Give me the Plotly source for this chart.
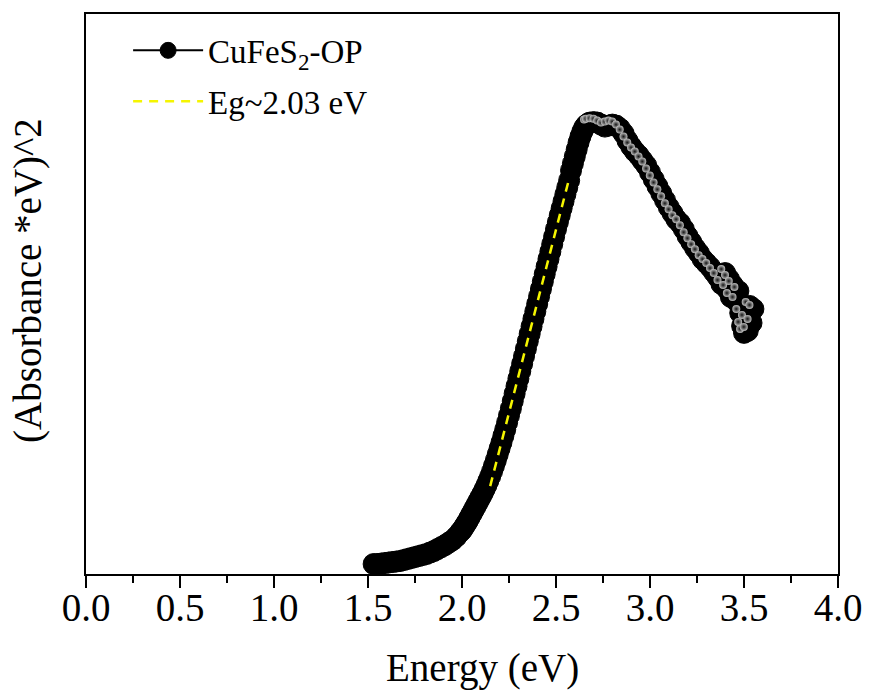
import plotly.graph_objects as go

# Photon energy (eV) and Tauc quantity (Absorbance*eV)^2 for CuFeS2-OP
energy = [
    1.53, 1.55, 1.57, 1.59, 1.61, 1.63, 1.65, 1.67, 1.69, 1.71,
    1.73, 1.75, 1.77, 1.79, 1.81, 1.83, 1.85, 1.87, 1.89, 1.91,
    1.93, 1.95, 1.97, 1.99, 2.00, 2.01, 2.02, 2.03, 2.04, 2.05,
    2.06, 2.07, 2.08, 2.09, 2.10, 2.11, 2.12, 2.13, 2.14, 2.15,
    2.16, 2.17, 2.18, 2.19, 2.20, 2.21, 2.22, 2.23, 2.24, 2.25,
    2.26, 2.27, 2.28, 2.29, 2.30, 2.31, 2.32, 2.33, 2.34, 2.35,
    2.36, 2.37, 2.38, 2.39, 2.40, 2.41, 2.42, 2.43, 2.44, 2.45,
    2.46, 2.47, 2.48, 2.49, 2.50, 2.51, 2.52, 2.53, 2.54, 2.55,
    2.56, 2.57, 2.58, 2.59, 2.60, 2.61, 2.62, 2.63, 2.64, 2.65,
    2.66, 2.67, 2.68, 2.70, 2.72, 2.74, 2.76, 2.78, 2.80, 2.82,
    2.84, 2.86, 2.88, 2.90, 2.92, 2.94, 2.96, 2.98, 3.00, 3.02,
    3.04, 3.06, 3.08, 3.10, 3.12, 3.14, 3.16, 3.18, 3.20, 3.22,
    3.24, 3.26, 3.28, 3.30, 3.32, 3.34, 3.36, 3.38, 3.40, 3.41,
    3.42, 3.43, 3.44, 3.46, 3.47, 3.48, 3.49, 3.50, 3.51, 3.52,
    3.53, 3.54, 3.55,
]
tauc = [
    0.100, 0.100, 0.105, 0.110, 0.115, 0.120, 0.125, 0.130, 0.140, 0.150,
    0.160, 0.170, 0.180, 0.190, 0.200, 0.215, 0.230, 0.250, 0.270, 0.290,
    0.315, 0.340, 0.375, 0.420, 0.440, 0.470, 0.500, 0.530, 0.565, 0.600,
    0.635, 0.670, 0.705, 0.740, 0.775, 0.810, 0.850, 0.890, 0.935, 0.980,
    1.030, 1.085, 1.140, 1.200, 1.260, 1.320, 1.385, 1.450, 1.520, 1.590,
    1.660, 1.735, 1.810, 1.885, 1.960, 2.035, 2.110, 2.185, 2.260, 2.335,
    2.410, 2.485, 2.560, 2.635, 2.710, 2.785, 2.860, 2.935, 3.010, 3.085,
    3.160, 3.235, 3.310, 3.385, 3.460, 3.530, 3.600, 3.670, 3.740, 3.810,
    3.880, 3.950, 4.050, 4.120, 4.190, 4.260, 4.330, 4.390, 4.440, 4.480,
    4.505, 4.520, 4.530, 4.535, 4.530, 4.510, 4.490, 4.500, 4.510, 4.500,
    4.470, 4.420, 4.350, 4.290, 4.240, 4.200, 4.150, 4.100, 4.030, 3.960,
    3.890, 3.820, 3.750, 3.680, 3.620, 3.560, 3.520, 3.460, 3.390, 3.330,
    3.270, 3.220, 3.160, 3.120, 3.080, 3.030, 2.980, 2.910, 3.020, 2.860,
    2.960, 2.780, 2.900, 2.740, 2.840, 2.620, 2.490, 2.420, 2.560, 2.440,
    2.690, 2.520, 2.660,
]

# Linear Tauc fit: (Absorbance*eV)^2 = FIT_SLOPE * (E - EG)
EG = 2.03
FIT_SLOPE = 7.35
fit_energy = [2.15, 2.57]
fit_tauc = [FIT_SLOPE * (e - EG) for e in fit_energy]

x_ticks = [0.0, 0.5, 1.0, 1.5, 2.0, 2.5, 3.0, 3.5, 4.0]
x_tick_text = ["0.0", "0.5", "1.0", "1.5", "2.0", "2.5", "3.0", "3.5", "4.0"]

SERIF = "Liberation Serif, Times New Roman, serif"
X_RANGE = [0, 4.0]
Y_RANGE = [0, 5.62]

# Specular glints on the ball markers past the absorption maximum: the same
# points, plotted on an overlay axis pair nudged a few pixels up-left.
peak_idx = tauc.index(max(tauc)) - 2
glint_x = energy[peak_idx:]
glint_y = tauc[peak_idx:]
GLINT_DX = 0.021   # eV, about 4 px
GLINT_DY = 0.040   # about 4 px

fig = go.Figure()
fig.add_trace(go.Scatter(
    x=energy, y=tauc, mode="lines+markers",
    name="CuFeS<sub>2</sub>-OP",
    legendgroup="data",
    line=dict(color="black", width=2),
    marker=dict(symbol="circle", size=21, color="black",
                line=dict(color="black", width=1)),
))
fig.add_trace(go.Scatter(
    x=glint_x, y=glint_y, mode="markers",
    xaxis="x2", yaxis="y2", showlegend=False, hoverinfo="skip",
    marker=dict(symbol="circle", size=8, color="#bdbdbd",
                gradient=dict(type="radial", color="#151515"),
                line=dict(width=0)),
))
fig.add_trace(go.Scatter(
    x=fit_energy, y=fit_tauc, mode="lines",
    name=f"Eg~{EG:.2f} eV",
    legendgroup="fit",
    line=dict(color="#F5F500", width=2.5, dash="9px,7px"),
))

fig.update_layout(
    width=874, height=692,
    margin=dict(l=86, r=31, t=12, b=118),
    paper_bgcolor="white", plot_bgcolor="white",
    font=dict(family=SERIF, color="black"),
    showlegend=True,
    legend=dict(
        x=0.056, y=0.985, xanchor="left", yanchor="top",
        bgcolor="rgba(0,0,0,0)", borderwidth=0,
        font=dict(family=SERIF, size=33, color="black"),
        itemwidth=70, tracegroupgap=5,
    ),
    xaxis=dict(
        range=X_RANGE, tickvals=x_ticks, ticktext=x_tick_text,
        ticks="outside", ticklen=12, tickwidth=2, tickcolor="black",
        ticklabelstandoff=-14,
        minor=dict(dtick=0.25, ticks="outside", ticklen=7, tickwidth=2,
                   tickcolor="black", showgrid=False),
        showline=True, linecolor="black", linewidth=2, mirror=True,
        showgrid=False, zeroline=False,
        tickfont=dict(family=SERIF, size=39, color="black"),
    ),
    yaxis=dict(
        range=Y_RANGE, showticklabels=False, ticks="",
        showline=True, linecolor="black", linewidth=2, mirror=True,
        showgrid=False, zeroline=False,
    ),
    xaxis2=dict(
        overlaying="x", range=[X_RANGE[0] + GLINT_DX, X_RANGE[1] + GLINT_DX],
        visible=False, showgrid=False, zeroline=False,
    ),
    yaxis2=dict(
        overlaying="y", range=[Y_RANGE[0] - GLINT_DY, Y_RANGE[1] - GLINT_DY],
        visible=False, showgrid=False, zeroline=False,
    ),
    annotations=[
        dict(text="Energy (eV)", xref="paper", yref="paper",
             x=0.527, y=-0.167, xanchor="center", yanchor="middle",
             showarrow=False, font=dict(family=SERIF, size=39, color="black")),
        dict(text="(Absorbance *eV)^2", xref="paper", yref="paper",
             x=-0.078, y=0.524, xanchor="center", yanchor="middle",
             textangle=-90, showarrow=False,
             font=dict(family=SERIF, size=39, color="black")),
    ],
)

fig.write_html("out.html")
